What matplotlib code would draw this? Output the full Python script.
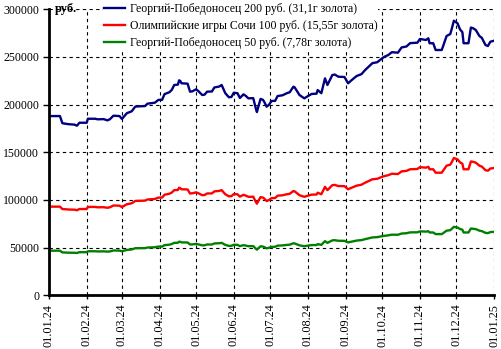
import pandas as pd
import matplotlib
matplotlib.use("Agg")
import matplotlib.pyplot as plt
import matplotlib.dates as mdates

plt.rcParams["font.family"] = "Liberation Serif"

# days counted from 01.01.2024
day = [0, 9, 11, 16, 21, 23, 25, 31, 32, 38, 40, 45, 48, 50, 53, 58, 60, 64, 68, 71,
       79, 81, 87, 90, 93, 95, 99, 101, 103, 106, 107, 108, 109, 114, 116, 118, 121, 123, 126, 128,
       130, 134, 136, 140, 142, 145, 148, 150, 152, 155, 157, 160, 162, 164, 168, 170, 171, 172, 174, 176,
       177, 179, 181, 183, 186, 188, 192, 196, 198, 201, 202, 206, 210, 213, 216, 220, 221, 224, 227, 229,
       233, 235, 238, 243, 246, 249, 253, 257, 260, 266, 270, 274, 276, 279, 282, 287, 290, 294, 297, 303,
       305, 307, 310, 312, 313, 316, 318, 323, 324, 327, 330, 331, 333, 336, 338, 340, 341, 345, 347, 349,
       351, 354, 356, 359, 361, 363, 366]

coin_200 = [188000, 188000, 180500, 179500, 179000, 177900, 181000, 181000, 185200, 185200,
            184600, 184800, 183500, 184600, 188400, 188000, 185000, 191000, 193000, 198000,
            198500, 201000, 202000, 205000, 205000, 211000, 213000, 215500, 220600, 221000,
            225500, 224800, 222400, 222000, 213600, 214000, 216100, 214000, 210100, 210500,
            213600, 213800, 218000, 219000, 220600, 212000, 207700, 208000, 212500, 212000,
            207000, 210800, 209000, 206600, 206800, 196400, 192200, 197000, 206000, 205000,
            203000, 197800, 200000, 203800, 204000, 209000, 209800, 212200, 213000, 218800,
            218200, 210100, 206600, 209000, 211200, 211500, 215300, 212000, 227600, 220600,
            231000, 231600, 229300, 229000, 222400, 225800, 230000, 232000, 236300, 243500,
            244500, 248600, 250300, 252000, 255000, 254500, 260000, 261000, 264500, 265000,
            268800, 268500, 267800, 269600, 264400, 264400, 257300, 257300, 260800, 272000,
            274000, 278300, 288000, 285300, 279000, 276000, 264400, 264400, 280900, 280000,
            278300, 272000, 270000, 262500, 261500, 266000, 267000]

coin_100 = [93000, 93000, 90500, 90000, 89800, 89200, 90500, 90500, 92700, 92700,
            92300, 92400, 91800, 92300, 94200, 94000, 92500, 95500, 96500, 99000,
            99300, 100500, 101000, 102500, 102500, 105500, 106500, 107800, 110300, 110500,
            112800, 112400, 111200, 111000, 106800, 107000, 108000, 107000, 105000, 105200,
            106800, 106900, 109000, 109500, 110300, 106000, 103800, 104000, 106200, 106000,
            103500, 105400, 104500, 103300, 103400, 98200, 96100, 98500, 103000, 102500,
            101500, 98900, 100000, 101900, 102000, 104500, 104900, 106100, 106500, 109400,
            109100, 105000, 103300, 104500, 105600, 105700, 107600, 106000, 113800, 110300,
            115500, 115800, 114600, 114500, 111200, 112900, 115000, 116000, 118100, 121700,
            122200, 124300, 125100, 126000, 127500, 127200, 130000, 130500, 132200, 132500,
            134400, 134200, 133900, 134800, 132200, 132200, 128600, 128600, 130400, 136000,
            137000, 139100, 144000, 142600, 139500, 138000, 132200, 132200, 140400, 140000,
            139100, 136000, 135000, 131200, 130700, 133000, 133500]

coin_50 = [46800, 46800, 45000, 44700, 44600, 44400, 45200, 45200, 46200, 46200,
           46000, 46100, 45800, 46000, 47000, 46900, 46200, 47600, 48100, 49400,
           49500, 50100, 50400, 51100, 51100, 52600, 53100, 53800, 55000, 55100,
           56200, 56100, 55500, 55400, 53300, 53400, 53900, 53400, 52400, 52500,
           53300, 53300, 54400, 54600, 55000, 52900, 51800, 51900, 53000, 52900,
           51600, 52600, 52100, 51500, 51600, 49000, 47900, 49100, 51400, 51100,
           50600, 49300, 49900, 50800, 50900, 52100, 52300, 52900, 53100, 54600,
           54400, 52400, 51500, 52100, 52700, 52700, 53700, 52900, 56800, 55000,
           57600, 57800, 57200, 57100, 55500, 56300, 57400, 57900, 58900, 60700,
           61000, 62000, 62400, 62900, 63600, 63500, 64800, 65100, 66000, 66100,
           67000, 67000, 66800, 67200, 65900, 65900, 64200, 64200, 65000, 67800,
           68300, 69400, 71800, 71100, 69600, 68800, 65900, 65900, 70000, 69800,
           69400, 67800, 67300, 65500, 65200, 66300, 66600]

labels = ["Георгий-Победоносец 200 руб. (31,1г золота)",
          "Олимпийские игры Сочи 100 руб. (15,55г золота)",
          "Георгий-Победоносец 50 руб. (7,78г золота)"]

dates = pd.Timestamp("2024-01-01") + pd.to_timedelta(day, unit="D")

fig = plt.figure(figsize=(5.02, 3.49), dpi=100)
ax = fig.add_axes([49 / 502, 1 - 295.3 / 349, 445 / 502, 286 / 349])

ax.plot(dates, coin_200, color="#000080", lw=1.7, label=labels[0])
ax.plot(dates, coin_100, color="#ff0000", lw=1.7, label=labels[1])
ax.plot(dates, coin_50, color="#008000", lw=1.7, label=labels[2])

ax.set_xlim(pd.Timestamp("2024-01-01"), pd.Timestamp("2025-01-01"))
ax.set_ylim(0, 300000)
ax.set_yticks(range(0, 300001, 50000))
ax.xaxis.set_major_locator(mdates.MonthLocator())
ax.xaxis.set_major_formatter(mdates.DateFormatter("%d.%m.%y"))

ax.grid(True, color="black", linestyle=(0, (3, 3)), linewidth=0.8)
for s in ["top", "right"]:
    ax.spines[s].set_visible(False)
for s in ["left", "bottom"]:
    ax.spines[s].set_linewidth(2)
ax.tick_params(axis="y", length=4, width=1, pad=3, labelsize=8.5)
ax.tick_params(axis="x", length=3, width=1, pad=3, labelsize=8.8, labelrotation=90)

ax.text(0.014, 1.0, "руб.", transform=ax.transAxes, fontsize=9, fontweight="bold",
        ha="left", va="center")

leg = ax.legend(loc="upper left", bbox_to_anchor=(103 / 502, 1 - 2 / 349), bbox_transform=fig.transFigure,
                frameon=True, fancybox=False, edgecolor="none", facecolor="white", framealpha=1,
                fontsize=8.5, handlelength=1.8, handletextpad=0.35, labelspacing=0.42,
                borderpad=0.1, borderaxespad=0)

fig.savefig("out.png", dpi=100)
